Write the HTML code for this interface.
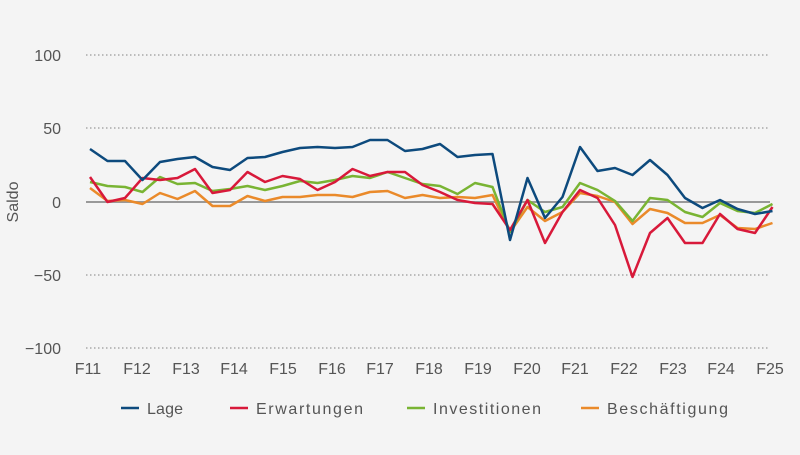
<!DOCTYPE html><html><head><style>body{margin:0;background:#f4f4f4}text{font-family:"Liberation Sans",sans-serif;fill:#555}</style></head><body>
<svg width="800" height="450" xmlns="http://www.w3.org/2000/svg">
<rect width="800" height="450" fill="#f4f4f4"/>
<g stroke="#999" stroke-width="1.3" stroke-dasharray="1.5,2.5">
<line x1="86" y1="55" x2="770" y2="55"/><line x1="86" y1="128" x2="770" y2="128"/><line x1="86" y1="275" x2="770" y2="275"/><line x1="86" y1="348" x2="770" y2="348"/></g>
<line x1="86" y1="202" x2="770" y2="202" stroke="#999" stroke-width="2"/>
<g font-size="16" text-anchor="end"><text x="61" y="61">100</text><text x="61" y="134">50</text><text x="61" y="208">0</text><text x="61" y="281">−50</text><text x="61" y="354">−100</text></g>
<text x="18" y="202" font-size="16" text-anchor="middle" transform="rotate(-90 18 202)">Saldo</text>
<g font-size="16" text-anchor="middle">
<text x="88" y="374">F11</text><text x="137" y="374">F12</text><text x="186" y="374">F13</text><text x="234" y="374">F14</text><text x="283" y="374">F15</text><text x="332" y="374">F16</text><text x="380" y="374">F17</text><text x="429" y="374">F18</text><text x="478" y="374">F19</text><text x="527" y="374">F20</text><text x="575" y="374">F21</text><text x="624" y="374">F22</text><text x="673" y="374">F23</text><text x="721" y="374">F24</text><text x="770" y="374">F25</text></g>
<g fill="none" stroke-width="2.5" stroke-linejoin="round" id="g"></g>
<g font-size="16">
<line x1="121" y1="408" x2="139" y2="408" stroke="#0d4a7d" stroke-width="2.5"/><text x="147" y="414" textLength="36">Lage</text>
<line x1="230" y1="408" x2="248" y2="408" stroke="#d8193a" stroke-width="2.5"/><text x="256" y="414" textLength="107">Erwartungen</text>
<line x1="407" y1="408" x2="425" y2="408" stroke="#79b433" stroke-width="2.5"/><text x="433" y="414" textLength="108">Investitionen</text>
<line x1="581" y1="408" x2="599" y2="408" stroke="#ea8a2a" stroke-width="2.5"/><text x="607" y="414" textLength="121">Beschäftigung</text></g>
</svg>
<script>
var S=[["#ea8a2a",[188,201,200,204,193,199,191,206,206,196,201,197,197,195,195,197,192,191,198,195,198,197,198,195,232,207,221,212,193,196,202,224,209,213,223,223,215,228,229,223]],
["#79b433",[182,186,187,192,177,184,183,191,189,186,190,186,181,183,180,176,178,172,178,184,186,194,183,187,232,200,212,207,183,190,201,221,198,200,212,217,203,211,213,204]],
["#d8193a",[177,202,198,178,180,178,169,193,190,172,182,176,179,190,182,169,176,172,172,185,192,200,203,204,230,200,243,212,190,198,225,277,233,218,243,243,214,229,233,207]],
["#0d4a7d",[149,161,161,180,162,159,157,167,170,158,157,152,148,147,148,147,140,140,151,149,144,157,155,154,240,178,218,197,147,171,168,175,160,175,198,208,200,209,214,211]]];
var g=document.getElementById("g"),h="";
S.forEach(function(s){var p=s[1].map(function(y,i){return (90+17.5*i).toFixed(1)+","+y}).join(" ");h+='<polyline stroke="'+s[0]+'" points="'+p+'"/>';});
g.innerHTML=h;
</script>
</body></html>
